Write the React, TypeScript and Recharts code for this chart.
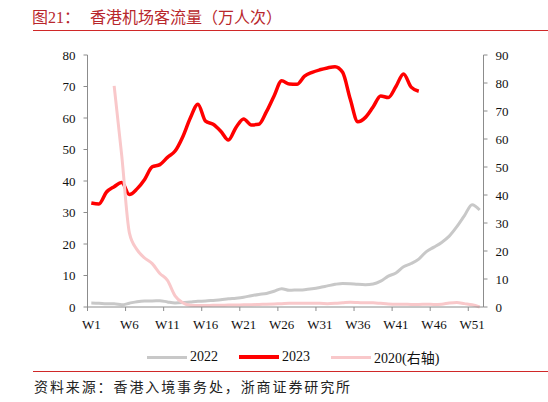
import { Legend, Line, LineChart, XAxis, YAxis } from 'recharts';

const weeks = [
    'W1', 'W2', 'W3', 'W4', 'W5', 'W6', 'W7', 'W8', 'W9', 'W10', 'W11', 'W12', 'W13',
    'W14', 'W15', 'W16', 'W17', 'W18', 'W19', 'W20', 'W21', 'W22', 'W23', 'W24', 'W25', 'W26',
    'W27', 'W28', 'W29', 'W30', 'W31', 'W32', 'W33', 'W34', 'W35', 'W36', 'W37', 'W38', 'W39',
    'W40', 'W41', 'W42', 'W43', 'W44', 'W45', 'W46', 'W47', 'W48', 'W49', 'W50', 'W51', 'W52',
];

// 万人次, left axis
const pax2022 = [
    1.3, 1.2, 1.0, 1.0, 0.7, 1.2, 1.7, 1.9, 1.9, 2.0, 1.6, 1.3, 1.4,
    1.6, 1.8, 1.9, 2.1, 2.3, 2.6, 2.8, 3.1, 3.6, 4.0, 4.3, 5.0, 5.8,
    5.3, 5.4, 5.5, 5.8, 6.2, 6.7, 7.2, 7.5, 7.4, 7.2, 7.1, 7.3, 8.2,
    9.8, 10.8, 12.8, 13.8, 15.2, 17.6, 19.0, 20.5, 22.5, 25.5, 29.0, 32.5, 30.8,
];

const pax2023 = [
    33.0, 32.7, 36.5, 38.2, 39.5, 35.7, 37.5, 40.5, 44.5, 45.2, 47.5, 49.5, 54.0,
    60.0, 64.4, 59.0, 58.0, 55.8, 53.0, 57.0, 59.7, 57.8, 58.0, 62.0, 67.0, 71.8,
    70.8, 70.7, 73.3, 74.5, 75.3, 75.9, 76.3, 74.5, 66.0, 58.8, 60.2, 63.5, 67.0,
    66.5, 70.0, 74.0, 69.8, 68.5,
];

// 万人次, right axis
const pax2020 = [
    null, null, null, 79.0, 54.0, 26.5, 20.5, 17.5, 15.5, 12.0, 9.5, 4.0, 1.5,
    0.6, 0.5, 0.5, 0.6, 0.6, 0.7, 0.7, 0.8, 0.8, 0.9, 1.0, 1.1, 1.2,
    1.3, 1.3, 1.3, 1.3, 1.3, 1.2, 1.3, 1.5, 1.7, 1.6, 1.5, 1.5, 1.3,
    1.1, 1.0, 1.0, 0.9, 0.9, 1.0, 0.9, 1.0, 1.4, 1.6, 1.2, 0.8, 0.0,
];

const leftTicks = [0, 10, 20, 30, 40, 50, 60, 70, 80];
const rightTicks = [0, 10, 20, 30, 40, 50, 60, 70, 80, 90];

const data = weeks.map((week, i) => ({
    week,
    y2022: pax2022[i] ?? null,
    y2023: pax2023[i] ?? null,
    y2020: pax2020[i] ?? null,
}));

const SERIES = [
    { key: 'y2022', name: '2022', color: '#c8c8c8', width: 3, axis: 'left' },
    { key: 'y2023', name: '2023', color: '#ff0000', width: 3.5, axis: 'left' },
    { key: 'y2020', name: '2020(右轴)', color: '#f9c8ca', width: 3, axis: 'right' },
];

const FONT = '"Liberation Serif", "Noto Sans CJK SC", serif';
const AXIS = '#8c8c8c';
const PLOT_LEFT = 87.5;
const PLOT_RIGHT = 483.5;
const BAND = (PLOT_RIGHT - PLOT_LEFT) / weeks.length;

// labels sit in the middle of each week, tick marks on the week boundary
function WeekTick(props: any) {
    const { x, y, payload } = props;
    const edge = x - BAND / 2;
    return (
        <g>
            <line x1={edge} x2={edge} y1={y} y2={y + 4} stroke={AXIS} />
            <text x={x} y={y + 22} textAnchor="middle" fontSize={13} style={{ fontFamily: FONT }} fill="#111">
                {payload.value}
            </text>
        </g>
    );
}

function LegendBox() {
    return (
        <div style={{ display: 'flex', alignItems: 'center', fontFamily: FONT, fontSize: 14, color: '#111' }}>
            {SERIES.map((s) => (
                <div key={s.key} style={{ display: 'flex', alignItems: 'center', marginRight: 21 }}>
                    <span style={{ display: 'inline-block', width: 40, height: s.width, background: s.color, marginRight: 3 }} />
                    <span>{s.name}</span>
                </div>
            ))}
        </div>
    );
}

export default function App() {
    const axisTick = { fontSize: 13, fill: '#111', style: { fontFamily: FONT } };
    return (
        <div style={{ position: 'absolute', left: 0, top: 0, width: 548, height: 402, background: '#fff', overflow: 'hidden', fontFamily: FONT }}>
            <div style={{ position: 'absolute', left: 32, top: 6, display: 'flex', fontSize: 16, lineHeight: '24px', color: '#b8272c' }}>
                <span>图21：</span>
                <span style={{ marginLeft: 10 }}>香港机场客流量（万人次）</span>
            </div>
            <div style={{ position: 'absolute', left: 33, right: 0, top: 30, borderTop: '1.5px solid #d02828' }} />

            <LineChart
                width={548}
                height={402}
                data={data}
                style={{ fontFamily: FONT }}
                margin={{ top: 55, right: 548 - PLOT_RIGHT - 60, bottom: 65, left: PLOT_LEFT - 60 }}
            >
                <XAxis
                    dataKey="week"
                    scale="band"
                    interval={4}
                    height={30}
                    stroke={AXIS}
                    tickLine={false}
                    tickSize={0}
                    tickMargin={0}
                    tick={<WeekTick />}
                />
                <YAxis
                    yAxisId="left"
                    width={60}
                    domain={[0, 80]}
                    ticks={leftTicks}
                    stroke={AXIS}
                    tickSize={4}
                    tickMargin={8}
                    tick={axisTick}
                />
                <YAxis
                    yAxisId="right"
                    orientation="right"
                    width={60}
                    domain={[0, 90]}
                    ticks={rightTicks}
                    stroke={AXIS}
                    tickSize={4}
                    tickMargin={8}
                    tick={axisTick}
                />
                <Legend
                    verticalAlign="middle"
                    align="center"
                    layout="horizontal"
                    wrapperStyle={{ top: 347, left: 147, width: 'auto' }}
                    content={<LegendBox />}
                />
                {SERIES.map((s) => (
                    <Line
                        key={s.key}
                        yAxisId={s.axis}
                        type="monotone"
                        dataKey={s.key}
                        name={s.name}
                        stroke={s.color}
                        strokeWidth={s.width}
                        dot={false}
                        activeDot={false}
                        isAnimationActive={false}
                    />
                ))}
            </LineChart>

            <div style={{ position: 'absolute', left: 33, right: 0, top: 371, borderTop: '1.5px solid #d02828' }} />
            <div style={{ position: 'absolute', left: 34, top: 378, fontSize: 14, letterSpacing: 1.9, lineHeight: '20px', color: '#222' }}>
                资料来源：香港入境事务处，浙商证券研究所
            </div>
        </div>
    );
}
